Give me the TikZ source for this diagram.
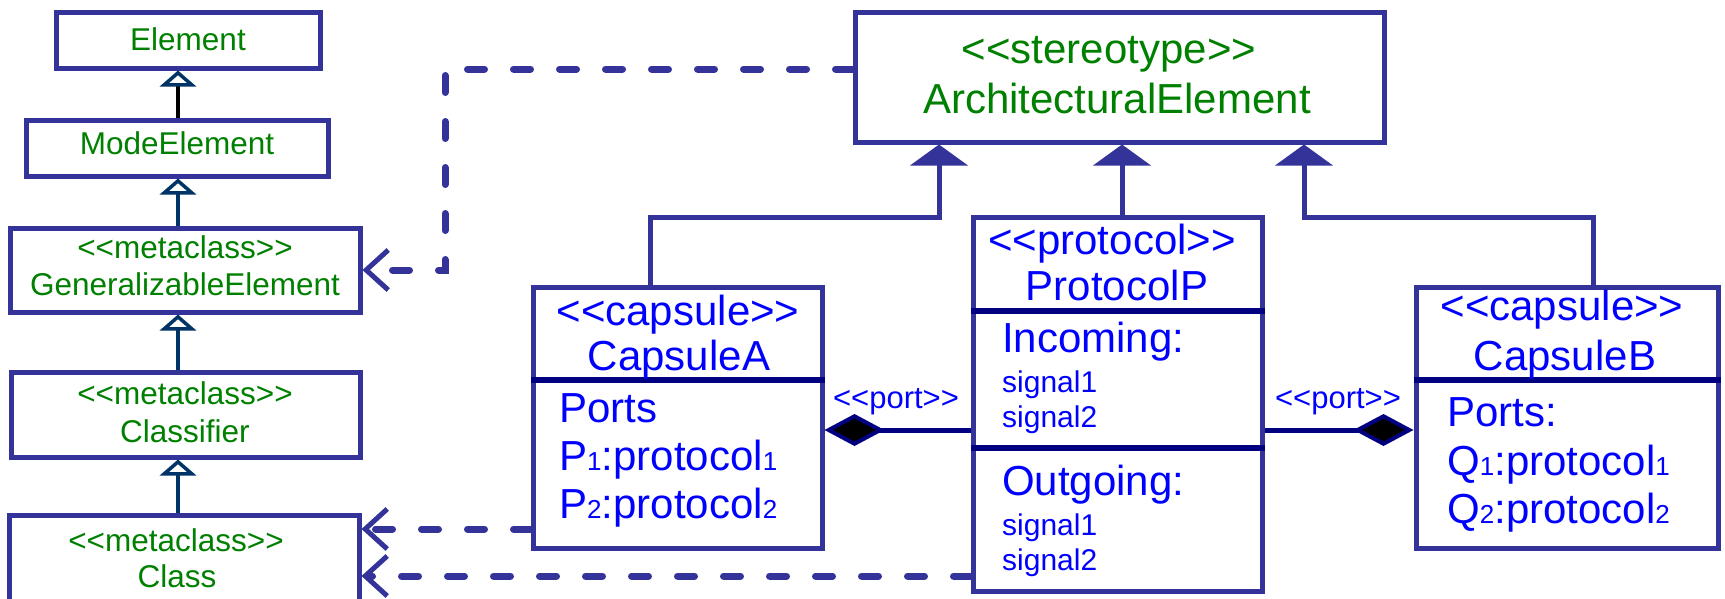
\documentclass[tikz,border=0pt]{standalone}
\usepackage{fontspec}
\setmainfont{Liberation Sans}
\usetikzlibrary{arrows.meta,calc}
\definecolor{boxblue}{HTML}{333399}
\definecolor{divnavy}{HTML}{000080}
\definecolor{linknavy}{HTML}{003366}
\definecolor{txtgreen}{HTML}{008000}
\definecolor{txtblue}{HTML}{0000FF}
\newcommand{\umlst}[1]{<{}<#1>{}>}
\newcommand{\sbs}[1]{{\fontsize{26}{26}\selectfont #1}}
\begin{document}
\begin{tikzpicture}[x=1pt,y=-1pt,
  umlbox/.style={draw=boxblue,line width=5pt,fill=white,inner sep=0pt,rectangle},
  divider/.style={draw=divnavy,line width=6pt},
  gtxt/.style={text=txtgreen,font=\fontsize{31.5}{36}\selectfont,inner sep=0pt,anchor=base},
  aetxt/.style={text=txtgreen,font=\fontsize{42}{48}\selectfont,inner sep=0pt,anchor=base},
  btxt/.style={text=txtblue,font=\fontsize{42}{48}\selectfont,inner sep=0pt,anchor=base},
  btxtl/.style={btxt,anchor=base west},
  stxt/.style={text=txtblue,font=\fontsize{30}{34}\selectfont,inner sep=0pt,anchor=base west},
  ptxt/.style={text=txtblue,font=\fontsize{31}{34}\selectfont,inner sep=0pt,anchor=base},
  genopen/.style={draw=linknavy,line width=4pt,-{Triangle[open,length=16pt,width=36pt,line width=3.5pt,color=linknavy]}},
  genopenblack/.style={genopen,draw=black},
  genfill/.style={draw=boxblue,line width=5pt,-{Triangle[length=21pt,width=57pt]}},
  comp/.style={draw=divnavy,line width=5pt,-{Diamond[length=60pt,width=32pt,fill=black,line width=4pt]}},
  dep/.style={draw=boxblue,line width=7pt,line cap=round,dash pattern=on 17pt off 29pt,-{Straight Barb[length=22pt,width=40pt,line width=5pt]}}
]
\clip (0,0) rectangle (1725,598);
\fill[white] (0,0) rectangle (1725,598);

% left column boxes
\node[umlbox,minimum width=264pt,minimum height=56pt] (el) at (188,40) {};
\node[umlbox,minimum width=302pt,minimum height=56pt] (me) at (177,148) {};
\node[umlbox,minimum width=350pt,minimum height=84pt] (ge) at (185,270) {};
\node[umlbox,minimum width=349pt,minimum height=85pt] (cl) at (185.5,414.5) {};
\node[umlbox,minimum width=350pt,minimum height=125pt] (cs) at (184,577.5) {};

% right boxes
\node[umlbox,minimum width=529pt,minimum height=130pt] (ae) at (1119.5,77) {};
\node[umlbox,minimum width=289pt,minimum height=261pt] (ca) at (677.5,417.5) {};
\node[umlbox,minimum width=289pt,minimum height=374pt] (pp) at (1117.5,404) {};
\node[umlbox,minimum width=302pt,minimum height=261pt] (cb) at (1567,417.5) {};

% dividers
\draw[divider] ([yshift=37.5pt]ca.west) -- ([yshift=37.5pt]ca.east);
\draw[divider] ([yshift=37.5pt]cb.west) -- ([yshift=37.5pt]cb.east);
\draw[divider] ([yshift=93pt]pp.west) -- ([yshift=93pt]pp.east);
\draw[divider] ([yshift=-44pt]pp.west) -- ([yshift=-44pt]pp.east);

% left column generalizations
\coordinate (spine) at (178,0);
\draw[genopenblack] (spine |- me.north) -- (spine |- el.south);
\draw[genopen] (spine |- ge.north) -- (spine |- me.south);
\draw[genopen] (spine |- cl.north) -- (spine |- ge.south);
\draw[genopen] (spine |- cs.north) -- (spine |- cl.south);

% generalizations to ArchitecturalElement
\coordinate (a1) at (939,0);
\coordinate (a2) at (1122,0);
\coordinate (a3) at (1304,0);
\coordinate (busy) at (0,217);
\draw[genfill] ([xshift=-27.5pt]ca.north) |- (a1 |- busy) -- (a1 |- ae.south);
\draw[genfill] (a2 |- pp.north) -- (a2 |- ae.south);
\draw[genfill] ([xshift=26pt]cb.north) |- (a3 |- busy) -- (a3 |- ae.south);

% compositions
\coordinate (porty) at (0,430);
\draw[comp] (pp.west |- porty) -- (ca.east |- porty);
\draw[comp] (pp.east |- porty) -- (cb.west |- porty);
\node[ptxt] (pl1) at (896,408) {\umlst{port}};
\node[ptxt] (pl2) at (1338,408) {\umlst{port}};

% dependencies
\coordinate (bend) at (445,270);
\draw[dep] ([yshift=8pt]ae.west) -| (bend) -- (ge.east);
\coordinate (caL) at ([yshift=-111.5pt]ca.west);
\coordinate (ppL) at ([yshift=-172pt]pp.west);
\draw[dep] (caL) -- (caL -| cs.east);
\draw[dep] (ppL) -- (ppL -| cs.east);

% left column text
\node[gtxt] (elT) at (188,50) {Element};
\node[gtxt] (meT) at (177,154) {ModeElement};
\node[gtxt] (geS) at (185,258) {\umlst{metaclass}};
\node[gtxt] (geN) at (185,295) {GeneralizableElement};
\node[gtxt] (clS) at (185,404) {\umlst{metaclass}};
\node[gtxt] (clN) at (185,442) {Classifier};
\node[gtxt] (csS) at (176,551) {\umlst{metaclass}};
\node[gtxt] (csN) at (177,587) {Class};

% ArchitecturalElement text
\node[aetxt] (aeS) at (1109,63) {\umlst{stereotype}};
\node[aetxt] (aeN) at (1117,113) {ArchitecturalElement};

% CapsuleA text
\node[btxt] (caS) at (678,325) {\umlst{capsule}};
\node[btxt] (caN) at (679,370) {CapsuleA};
\node[btxtl] (caP) at (559,422) {Ports};
\node[btxtl] (caP1) at (559,470) {P\sbs{1}:protocol\sbs{1}};
\node[btxtl] (caP2) at (559,518) {P\sbs{2}:protocol\sbs{2}};

% ProtocolP text
\node[btxt] (ppS) at (1112,254) {\umlst{protocol}};
\node[btxt] (ppN) at (1117,300) {ProtocolP};
\node[btxtl] (ppI) at (1002,352) {Incoming:};
\node[stxt] (ppI1) at (1002,392) {signal1};
\node[stxt] (ppI2) at (1002,427) {signal2};
\node[btxtl] (ppO) at (1002,495) {Outgoing:};
\node[stxt] (ppO1) at (1002,535) {signal1};
\node[stxt] (ppO2) at (1002,570) {signal2};

% CapsuleB text
\node[btxt] (cbS) at (1562,320) {\umlst{capsule}};
\node[btxt] (cbN) at (1565,370) {CapsuleB};
\node[btxtl] (cbP) at (1447,426) {Ports:};
\node[btxtl] (cbP1) at (1447,475) {Q\sbs{1}:protocol\sbs{1}};
\node[btxtl] (cbP2) at (1447,523) {Q\sbs{2}:protocol\sbs{2}};
\end{tikzpicture}
\end{document}
